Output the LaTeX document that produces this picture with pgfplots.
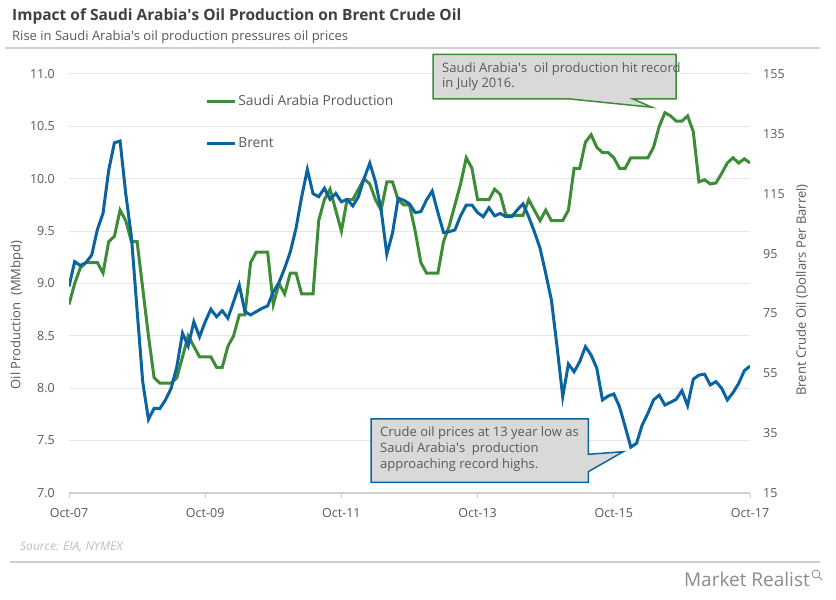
\documentclass[border=0pt]{standalone}
\usepackage{pgfplots}
\pgfplotsset{compat=1.18}
\usepackage{fontspec}
\setmainfont{Open Sans}
\definecolor{prodgreen}{HTML}{3E8B38}
\definecolor{brentblue}{HTML}{0B64A0}
\definecolor{txtgray}{HTML}{595959}
\definecolor{gridgray}{HTML}{E6E6E6}
\definecolor{axgray}{HTML}{D0D0D0}
\definecolor{boxfill}{HTML}{D9D9D9}
\newcommand{\fs}[1]{\fontsize{#1bp}{#1bp}\selectfont}
\newcommand{\q}{\textquotesingle}
\begin{document}
\begin{tikzpicture}
\begin{scope}[x=1bp,y=1bp]
\useasboundingbox (0,0) rectangle (836,600);
\fill[white] (0,0) rectangle (836,600);
% title block
\node[anchor=base west, inner sep=0, text=black!75] at (12,600-21) {\fs{15.5}\bfseries Impact of Saudi Arabia\q s Oil Production on Brent Crude Oil};
\node[anchor=base west, inner sep=0, text=txtgray] at (12,600-41) {\fs{13}Rise in Saudi Arabia\q s oil production pressures oil prices};
\draw[axgray, line width=1.5bp] (5,600-48) -- (820,600-48);
% bottom
\node[anchor=base west, inner sep=0, text=black!25] at (20,600-551) {\fs{12}\itshape Source: EIA, NYMEX};
\draw[axgray, line width=1.5bp] (10,600-562) -- (820,600-562);
\node[anchor=base east, inner sep=0, text=black!45] at (810,600-587) {\fs{19}Market Realist};
\draw[black!45, line width=0.8bp] (816,600-574) circle (4);
\draw[black!45, line width=1bp] (819,600-577) -- (822,600-580);
\end{scope}

\begin{axis}[
  at={(69bp,107bp)}, anchor=south west, scale only axis,
  width=681bp, height=419bp,
  xmin=0, xmax=120, ymin=7, ymax=11,
  axis x line*=bottom, axis y line*=left,
  y axis line style={draw=none},
  x axis line style={axgray, line width=1.5bp},
  xtick={0,24,48,72,96,120},
  xticklabels={Oct-07,Oct-09,Oct-11,Oct-13,Oct-15,Oct-17},
  tick align=outside, major tick length=5bp,
  xtick style={axgray, line width=1bp},
  ytick style={draw=none},
  ytick={7,7.5,...,11},
  ymajorgrids, grid style={gridgray, line width=1bp},
  yticklabel style={/pgf/number format/fixed, /pgf/number format/fixed zerofill, /pgf/number format/precision=1, inner sep=0pt, xshift=-9bp},
  xticklabel style={inner sep=0pt, yshift=-10bp},
  /pgf/number format/assume math mode=true,
  tick label style={font=\fs{12.5}, text=txtgray},
  ylabel={Oil Production\ \ (MMbpd)},
  ylabel style={at={(axis description cs:-0.0764,0.425)}, anchor=center, font=\fs{13}, text=txtgray},
]
\addplot[prodgreen, line width=3bp] table {
0 8.8
1 9.0
2 9.15
3 9.2
4 9.2
5 9.2
6 9.1
7 9.4
8 9.45
9 9.7
10 9.6
11 9.4
12 9.4
13 8.95
14 8.5
15 8.1
16 8.05
17 8.05
18 8.05
19 8.1
20 8.3
21 8.5
22 8.4
23 8.3
24 8.3
25 8.3
26 8.2
27 8.2
28 8.4
29 8.5
30 8.7
31 8.7
32 9.2
33 9.3
34 9.3
35 9.3
36 8.8
37 9.0
38 8.9
39 9.1
40 9.1
41 8.9
42 8.9
43 8.9
44 9.6
45 9.8
46 9.9
47 9.7
48 9.5
49 9.8
50 9.8
51 9.9
52 10.0
53 9.95
54 9.8
55 9.7
56 9.97
57 9.97
58 9.8
59 9.75
60 9.75
61 9.5
62 9.2
63 9.1
64 9.1
65 9.1
66 9.4
67 9.55
68 9.75
69 9.95
70 10.2
71 10.1
72 9.8
73 9.8
74 9.8
75 9.9
76 9.85
77 9.65
78 9.65
79 9.65
80 9.65
81 9.8
82 9.7
83 9.6
84 9.7
85 9.6
86 9.6
87 9.6
88 9.7
89 10.1
90 10.1
91 10.35
92 10.42
93 10.3
94 10.25
95 10.25
96 10.2
97 10.1
98 10.1
99 10.2
100 10.2
101 10.2
102 10.2
103 10.3
104 10.5
105 10.63
106 10.6
107 10.55
108 10.55
109 10.6
110 10.45
111 9.97
112 9.99
113 9.95
114 9.96
115 10.05
116 10.15
117 10.2
118 10.15
119 10.19
120 10.15
};
\end{axis}

\begin{axis}[
  at={(69bp,107bp)}, anchor=south west, scale only axis,
  width=681bp, height=419bp,
  xmin=0, xmax=120, ymin=15, ymax=155,
  axis x line=none, axis y line*=right,
  y axis line style={draw=none},
  ytick={15,35,...,155},
  tick align=outside, major tick length=5bp,
  ytick style={draw=none},
  yticklabel style={inner sep=0pt, xshift=8bp},
  /pgf/number format/assume math mode=true,
  tick label style={font=\fs{12.5}, text=txtgray},
  ylabel={Brent Crude Oil (Dollars Per Barrel)},
  ylabel style={at={(axis description cs:1.0764,0.4845)}, anchor=center, font=\fs{13}, text=txtgray},
  legend style={at={(axis description cs:0.2,0.955)}, anchor=north west, draw=none, fill=none, font=\fs{13.8}, text=txtgray, row sep=27bp, inner sep=0pt, cells={anchor=west}},
  legend image code/.code={\draw[#1, line width=3bp] (0,0) -- (28bp,0);},
]
\addlegendimage{prodgreen}
\addlegendentry{Saudi Arabia Production}
\addplot[brentblue, line width=3bp] table {
0 84
1 92.3
2 91
3 92
4 94.5
5 103
6 108.5
7 122.9
8 132
9 132.6
10 115
11 100.6
12 76
13 52
14 39.6
15 43.3
16 43.2
17 46.1
18 50
19 57.2
20 68.4
21 64.1
22 72.2
23 67.2
24 72.2
25 76.4
26 73.9
27 75.9
28 73.4
29 78.9
30 84.5
31 75.6
32 74.5
33 75.6
34 76.7
35 77.5
36 82.2
37 85.3
38 90.1
39 95.6
40 103.4
41 114
42 123.1
43 115
44 114
45 116.8
46 113.1
47 115.1
48 112.3
49 113.1
50 110.9
51 114
52 120.1
53 125.2
54 119
55 109.6
56 94.8
57 101.8
58 113.5
59 112.8
60 111.6
61 108.7
62 109
63 112.9
64 115.9
65 108.7
66 102
67 102.3
68 102.9
69 107.6
70 111.2
71 111.2
72 108.7
73 107.3
74 110.3
75 107.6
76 108.4
77 107.3
78 107.3
79 109.6
80 111.6
81 107.3
82 102.3
83 96.8
84 88.4
85 79.5
86 63.9
87 47.2
88 58.1
89 55.5
90 58.9
91 63.9
92 61.1
93 56.7
94 46.1
95 47.4
96 48.1
97 43.8
98 37.2
99 30.3
100 31.6
101 37.7
102 41.6
103 46.1
104 47.7
105 44.4
106 45.3
107 46.3
108 49.2
109 44.2
110 53
111 54.4
112 54.7
113 51.1
114 52.2
115 50
116 46.1
117 48.5
118 51.6
119 55.9
120 57.4
};
\addlegendentry{Brent}
\end{axis}

% callouts
\begin{scope}[x=1bp,y=1bp]
\filldraw[fill=boxfill, draw=prodgreen, line width=1.5bp]
  (433,545.7) -- (676,545.7) -- (676,501) -- (633,501) -- (652,492.7) -- (570,501) -- (433,501) -- cycle;
\node[anchor=north west, inner sep=0, align=left, text=txtgray, font=\fs{13}] at (442,600-62) {Saudi Arabia\q s\ \ oil production hit record\\[2.5bp]in July 2016.};
\filldraw[fill=boxfill, draw=brentblue, line width=1.5bp]
  (371,181) -- (588.3,181) -- (588.3,145.7) -- (623.3,148.3) -- (588.3,128.3) -- (588.3,117.7) -- (371,117.7) -- cycle;
\node[anchor=north west, inner sep=0, align=left, text=txtgray, font=\fs{13}] at (380,600-426) {Crude oil prices at 13 year low as\\[3bp]Saudi Arabia\q s\ \ production\\[3bp]approaching record highs.};
\end{scope}
\end{tikzpicture}
\end{document}
